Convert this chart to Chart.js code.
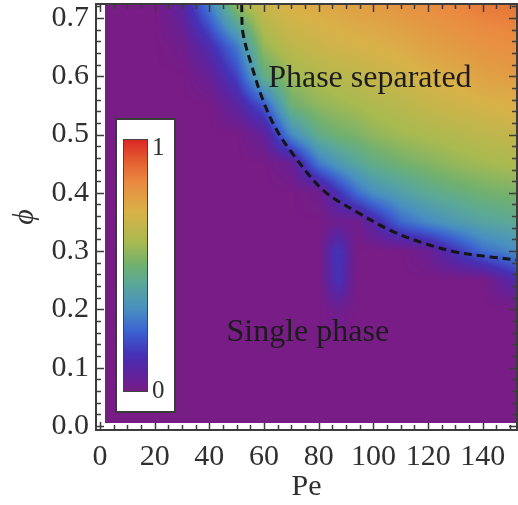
<!DOCTYPE html>
<html><head><meta charset="utf-8">
<script src="https://cdn.jsdelivr.net/npm/chart.js@4/dist/chart.umd.min.js"></script>
<style>html,body{margin:0;padding:0;background:#fff;}#wrap{width:518px;height:505px;position:relative;}</style>
</head><body><div id="wrap"><canvas id="c" width="518" height="505"></canvas></div>
<script>
// ---- data ----
const peGrid  = [2, 10, 20, 30, 40, 50, 60, 70, 80, 87, 94, 100, 110, 120, 130, 140, 152.5];
const phiGrid = [0.005, 0.05, 0.10, 0.15, 0.20, 0.25, 0.30, 0.35, 0.40, 0.45, 0.50, 0.55, 0.60, 0.65, 0.724];
// order parameter rows (one per phi value, one entry per Pe value)
const z000 = [0,0,0,0,0,0,0,0,0,0,0,0,0,0,0,0,0];
const z005 = [0,0,0,0,0,0,0,0,0,0,0,0,0,0,0,0,0];
const z010 = [0,0,0,0,0,0,0,0,0,0,0,0,0,0,0,0,0];
const z015 = [0,0,0,0,0,0,0,0,0,0,0,0,0,0,0,0,0];
const z020 = [0,0,0,0,0,0,0,0,0,0.03,0,0,0,0,0,0,0];
const z025 = [0,0,0,0,0,0,0,0,0,0.15,0,0,0,0,0,0,0.12];
const z030 = [0,0,0,0,0,0,0,0,0,0.16,0,0,0,0.04,0.15,0.26,0.32];
const z035 = [0,0,0,0,0,0,0,0,0,0.03,0.02,0.10,0.25,0.32,0.37,0.41,0.44];
const z040 = [0,0,0,0,0,0,0,0,0.02,0.14,0.26,0.33,0.39,0.44,0.47,0.50,0.52];
const z045 = [0,0,0,0,0,0,0,0.04,0.28,0.36,0.42,0.46,0.50,0.53,0.56,0.58,0.60];
const z050 = [0,0,0,0,0,0,0.06,0.32,0.46,0.50,0.52,0.55,0.58,0.60,0.62,0.64,0.66];
const z055 = [0,0,0,0,0,0.08,0.22,0.49,0.55,0.57,0.59,0.61,0.63,0.66,0.68,0.70,0.72];
const z060 = [0,0,0,0,0.05,0.18,0.46,0.57,0.61,0.63,0.64,0.66,0.68,0.71,0.73,0.76,0.78];
const z065 = [0,0,0,0.02,0.12,0.28,0.56,0.64,0.67,0.69,0.70,0.71,0.73,0.76,0.78,0.80,0.82];
const z072 = [0,0,0,0.08,0.30,0.56,0.68,0.72,0.74,0.75,0.77,0.78,0.80,0.82,0.84,0.86,0.87];
const field = [z000,z005,z010,z015,z020,z025,z030,z035,z040,z045,z050,z055,z060,z065,z072];

// dashed phase boundary
const boundaryPe  = [51.8, 52.3, 55.6, 59.6, 64.0, 69.5, 81.5, 94.0, 106.0, 118.1, 130.5, 142.6, 152.5];
const boundaryPhi = [0.724, 0.674, 0.616, 0.559, 0.513, 0.473, 0.405, 0.367, 0.336, 0.314, 0.298, 0.290, 0.285];

const xTicks = [0, 20, 40, 60, 80, 100, 120, 140];
const yTicks = [0.0, 0.1, 0.2, 0.3, 0.4, 0.5, 0.6, 0.7];
const cbarTicks = [0, 1];
const regionLabels = ['Phase separated', 'Single phase'];
const regionPe  = [98.7, 76];
const regionPhi = [0.581, 0.146];

// ---- styling ----
const cmapStops = [
  [0.00,[120,28,134]],[0.08,[92,36,160]],[0.15,[68,50,182]],[0.24,[60,98,208]],
  [0.33,[72,144,192]],[0.43,[90,168,152]],[0.50,[112,176,112]],[0.59,[168,186,80]],
  [0.71,[216,178,72]],[0.83,[234,138,64]],[0.92,[226,90,48]],[1.00,[220,36,36]]
];
function cmap(v){
  v = Math.max(0, Math.min(1, v));
  for (let i=0;i<cmapStops.length-1;i++){
    const [a,ca]=cmapStops[i],[b,cb]=cmapStops[i+1];
    if (v<=b){const t=(v-a)/(b-a);return [ca[0]+(cb[0]-ca[0])*t,ca[1]+(cb[1]-ca[1])*t,ca[2]+(cb[2]-ca[2])*t];}
  }
  return cmapStops[cmapStops.length-1][1];
}
function findIdx(arr, v){
  for (let i=0;i<arr.length-1;i++) if (v<=arr[i+1]) return i;
  return arr.length-2;
}
const SERIF = "'Liberation Serif','DejaVu Serif',serif";
const TEXT = '#303030';

const heatmapPlugin = {
  id:'heatmap',
  beforeDatasetsDraw(chart){
    const {ctx, chartArea:a, scales:{x,y}} = chart;
    const w = Math.round(a.right-a.left), h = Math.round(a.bottom-a.top);
    const off = document.createElement('canvas'); off.width=w; off.height=h;
    const octx = off.getContext('2d');
    const img = octx.createImageData(w,h);
    const pMin=peGrid[0], pMax=peGrid[peGrid.length-1], fMin=phiGrid[0], fMax=phiGrid[phiGrid.length-1];
    for (let j=0;j<h;j++){
      const phi = y.getValueForPixel(a.top+j+0.5);
      if (phi<fMin || phi>fMax+0.003) continue;
      const r = findIdx(phiGrid, phi);
      const ty = Math.max(0,Math.min(1,(phi-phiGrid[r])/(phiGrid[r+1]-phiGrid[r])));
      for (let i=0;i<w;i++){
        const pe = x.getValueForPixel(a.left+i+0.5);
        if (pe<pMin || pe>pMax+0.5) continue;
        const c = findIdx(peGrid, pe);
        const tx = Math.max(0,Math.min(1,(pe-peGrid[c])/(peGrid[c+1]-peGrid[c])));
        const v = (field[r][c]*(1-tx)+field[r][c+1]*tx)*(1-ty) + (field[r+1][c]*(1-tx)+field[r+1][c+1]*tx)*ty;
        const col = cmap(v); const k=(j*w+i)*4;
        img.data[k]=col[0]; img.data[k+1]=col[1]; img.data[k+2]=col[2]; img.data[k+3]=255;
      }
    }
    octx.putImageData(img,0,0);
    ctx.save(); ctx.drawImage(off, a.left, a.top); ctx.restore();
  }
};

const overlayPlugin = {
  id:'overlay',
  afterDatasetsDraw(chart){
    const {ctx, scales:{x,y}} = chart;
    ctx.save();
    // region labels
    ctx.font = "32px "+SERIF; ctx.fillStyle='#1c1c1c'; ctx.textAlign='center'; ctx.textBaseline='alphabetic';
    regionLabels.forEach((t,i)=>ctx.fillText(t, x.getPixelForValue(regionPe[i]), y.getPixelForValue(regionPhi[i])));
    // colour bar legend
    const bx=116, by=119, bw=59, bh=293;
    ctx.fillStyle='#fff'; ctx.fillRect(bx,by,bw,bh);
    ctx.strokeStyle='#3a3a3a'; ctx.lineWidth=2; ctx.strokeRect(bx,by,bw,bh);
    const gx=123, gy=139, gw=25, gh=253;
    const g = ctx.createLinearGradient(0,gy+gh,0,gy);
    cmapStops.forEach(([s,c])=>g.addColorStop(s,`rgb(${c[0]},${c[1]},${c[2]})`));
    ctx.fillStyle=g; ctx.fillRect(gx,gy,gw,gh);
    ctx.strokeStyle='#444'; ctx.lineWidth=1; ctx.strokeRect(gx+0.5,gy+0.5,gw-1,gh-1);
    ctx.font="25px "+SERIF; ctx.fillStyle=TEXT; ctx.textAlign='left'; ctx.textBaseline='middle';
    cbarTicks.forEach(v=>ctx.fillText(String(v), gx+gw+4, gy+gh-(v*(gh-10))-1));
    ctx.restore();
  },
  afterDraw(chart){
    const {ctx, chartArea:a, scales:{x,y}} = chart;
    ctx.save();
    ctx.strokeStyle='#3c3c3c'; ctx.lineWidth=2;
    ctx.strokeRect(a.left, a.top, a.right-a.left, a.bottom-a.top);
    ctx.lineWidth=1.5; ctx.beginPath();
    for (let v=0; v<=150.01; v+=5){
      const px=Math.round(x.getPixelForValue(v))+0.5; const major = Math.abs(v%20)<1e-6;
      const L = major?8:5;
      ctx.moveTo(px,a.bottom); ctx.lineTo(px,a.bottom-L);
      ctx.moveTo(px,a.top); ctx.lineTo(px,a.top+L);
    }
    for (let k=0;k<=36;k++){
      const v=k*0.02; const py=Math.round(y.getPixelForValue(v))+0.5; const major=(k%5===0);
      const L = major?8:5;
      ctx.moveTo(a.left,py); ctx.lineTo(a.left+L,py);
      ctx.moveTo(a.right,py); ctx.lineTo(a.right-L,py);
    }
    ctx.stroke();
    ctx.restore();
  }
};

new Chart(document.getElementById('c'), {
  type:'scatter',
  data:{ datasets:[{
    label:'boundary',
    data: boundaryPe.map((p,i)=>({x:p,y:boundaryPhi[i]})),
    showLine:true, borderColor:'#151515', borderWidth:3, borderDash:[8,5],
    pointRadius:0, tension:0.35, fill:false
  }]},
  options:{
    responsive:false, animation:false, devicePixelRatio:1,
    layout:{padding:{top:4,right:1,left:0,bottom:0}},
    plugins:{legend:{display:false}, tooltip:{enabled:false}},
    scales:{
      x:{
        type:'linear', min:-1.46, max:152.5,
        grid:{display:false, drawTicks:false}, border:{display:false},
        afterBuildTicks:s=>{s.ticks = xTicks.map(v=>({value:v}));},
        afterFit:s=>{s.height=75; s.paddingLeft=0; s.paddingRight=0;},
        ticks:{autoSkip:false, maxRotation:0, padding:9, color:TEXT, font:{family:SERIF,size:30}},
        title:{display:true, text:'Pe', color:TEXT, font:{family:SERIF,size:30}, padding:{top:0,bottom:0}}
      },
      y:{
        type:'linear', min:-0.007, max:0.724,
        grid:{display:false, drawTicks:false}, border:{display:false},
        afterBuildTicks:s=>{s.ticks = yTicks.map(v=>({value:v}));},
        afterFit:s=>{s.width=96; s.paddingTop=0; s.paddingBottom=0;},
        ticks:{padding:7, color:TEXT, font:{family:SERIF,size:30}, callback:v=>Number(v).toFixed(1)},
        title:{display:true, text:'ϕ', color:TEXT, font:{family:SERIF,size:30,style:'italic'}, padding:{top:7,bottom:0}}
      }
    }
  },
  plugins:[heatmapPlugin, overlayPlugin]
});
</script></body></html>
